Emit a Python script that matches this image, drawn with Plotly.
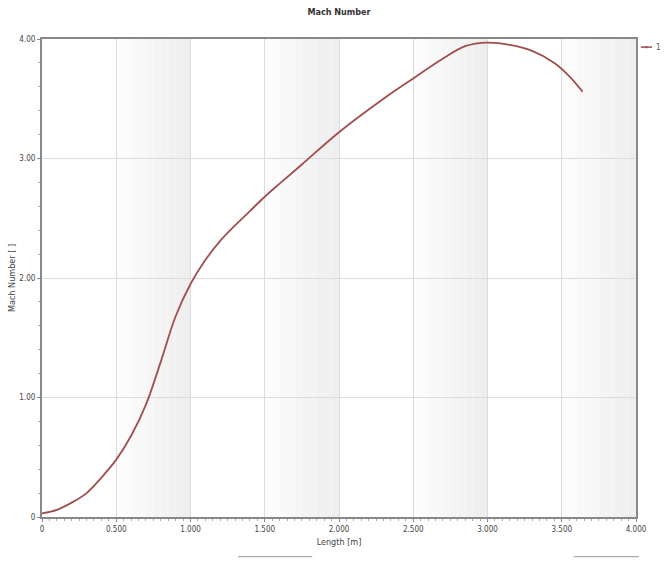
import plotly.graph_objects as go

# Data
length_m = [0.0, 0.1, 0.2, 0.3, 0.4, 0.5, 0.6, 0.7, 0.8, 0.9, 1.0, 1.1, 1.2, 1.3,
            1.4, 1.5, 1.6, 1.75, 2.0, 2.3, 2.5, 2.68, 2.85, 3.0, 3.15, 3.3, 3.45, 3.55, 3.64]
mach = [0.03, 0.06, 0.12, 0.2, 0.33, 0.48, 0.68, 0.94, 1.3, 1.68, 1.95, 2.15, 2.31, 2.44,
        2.56, 2.68, 2.79, 2.95, 3.22, 3.5, 3.67, 3.82, 3.94, 3.97, 3.95, 3.9, 3.8, 3.69, 3.56]
series_name = "1"
x_tickvals = [0, 0.5, 1.0, 1.5, 2.0, 2.5, 3.0, 3.5, 4.0]
x_ticktext = ["0", "0.500", "1.000", "1.500", "2.000", "2.500", "3.000", "3.500", "4.000"]
y_tickvals = [0, 1, 2, 3, 4]
y_ticktext = ["0", "1.00", "2.00", "3.00", "4.00"]
band_starts = [0.5, 1.5, 2.5, 3.5]

FONT = "DejaVu Sans Condensed, DejaVu Sans, sans-serif"
LINE = "rgb(160,78,78)"

fig = go.Figure()
fig.add_trace(go.Scatter(
    x=length_m, y=mach, name=series_name,
    mode="lines", showlegend=False,
    line=dict(color=LINE, width=1.8, shape="spline", smoothing=1.0),
))

shapes = []
steps = 10
for b in band_starts:
    for i in range(steps):
        g = 254 - int(round(16 * (i + 1) / steps))
        shapes.append(dict(type="rect", xref="x", yref="y", layer="below",
                           x0=b + 0.5 * i / steps, x1=b + 0.5 * (i + 1) / steps,
                           y0=0, y1=4, line=dict(width=0),
                           fillcolor=f"rgb({g},{g},{g})"))
# compact legend symbol (line with a dot)
shapes.append(dict(type="line", xref="paper", yref="paper", x0=1.008, x1=1.027,
                   y0=0.983, y1=0.983, line=dict(color=LINE, width=1.5)))
shapes.append(dict(type="circle", xref="paper", yref="paper", x0=1.0155, x1=1.0195,
                   y0=0.9805, y1=0.9855, fillcolor=LINE, line=dict(color=LINE, width=0)))
# small artifact lines at bottom
shapes.append(dict(type="line", xref="paper", yref="paper", x0=0.33, x1=0.455,
                   y0=-0.083, y1=-0.083, line=dict(color="#999", width=1)))
shapes.append(dict(type="line", xref="paper", yref="paper", x0=0.895, x1=1.005,
                   y0=-0.083, y1=-0.083, line=dict(color="#999", width=1)))

fig.update_layout(
    width=665, height=562,
    margin=dict(l=42, r=29, t=39, b=45, autoexpand=False),
    paper_bgcolor="white", plot_bgcolor="white",
    font=dict(family=FONT, size=8, color="#444"),
    title=dict(text="<b>Mach Number</b>", x=0.5, xref="paper", xanchor="center",
               y=0.985, yanchor="top", font=dict(size=9, color="#333")),
    shapes=shapes,
    showlegend=False,
    annotations=[dict(text=series_name, xref="paper", yref="paper", x=1.031, y=0.983,
                      xanchor="left", yanchor="middle", showarrow=False,
                      font=dict(size=8, color="#555"))],
    xaxis=dict(range=[0, 4], tickvals=x_tickvals, ticktext=x_ticktext,
               showgrid=True, gridcolor="#dcdcdc", gridwidth=1,
               showline=True, linecolor="#888", linewidth=2, mirror=True,
               ticks="outside", ticklen=3, tickcolor="#888",
               minor=dict(dtick=0.05, ticks="outside", ticklen=2, tickcolor="#aaa", showgrid=False),
               zeroline=False,
               title=dict(text="Length [m]", font=dict(size=9, color="#444"), standoff=6)),
    yaxis=dict(range=[0, 4], tickvals=y_tickvals, ticktext=y_ticktext,
               showgrid=True, gridcolor="#dcdcdc", gridwidth=1,
               showline=True, linecolor="#888", linewidth=2, mirror=True,
               ticks="outside", ticklen=3, tickcolor="#888",
               minor=dict(dtick=0.2, ticks="outside", ticklen=2, tickcolor="#aaa", showgrid=False),
               zeroline=False,
               title=dict(text="Mach Number [ ]", font=dict(size=9, color="#444"), standoff=2)),
)

fig.write_html("out.html")
